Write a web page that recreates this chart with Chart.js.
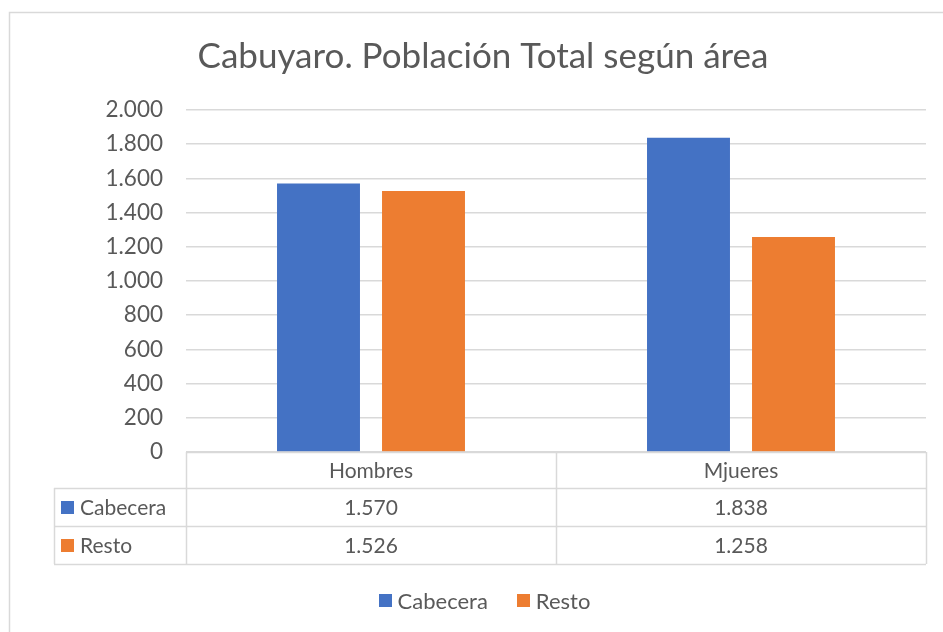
<!DOCTYPE html>
<html>
<head>
<meta charset="utf-8">
<script src="https://cdn.jsdelivr.net/npm/chart.js@4.4.1/dist/chart.umd.min.js"></script>
<style>
  html, body { margin: 0; padding: 0; background: #fff; }
  canvas { display: block; }
</style>
</head>
<body>
<canvas id="c" width="943" height="632"></canvas>
<script>
// Data
const categories = ['Hombres', 'Mjueres'];
const seriesNames = ['Cabecera', 'Resto'];
const cabecera = [1570, 1838];
const resto = [1526, 1258];
const yMin = 0;
const yMax = 2000;
const yStep = 200;
const titleText = 'Cabuyaro. Población Total según área';

const colors = ['#4472C4', '#ED7D31'];
const textColor = '#595959';
const lineColor = '#D9D9D9';
const fontFamily = 'Lato, "Open Sans", sans-serif';

// thousands separator "."
function fmt(v) {
  return String(v).replace(/\B(?=(\d{3})+(?!\d))/g, '.');
}

const seriesValues = [cabecera, resto];

// Outer frame of the chart object
const framePlugin = {
  id: 'frame',
  beforeDraw(chart) {
    const ctx = chart.ctx;
    ctx.save();
    ctx.fillStyle = '#fff';
    ctx.fillRect(0, 0, chart.width, chart.height);
    ctx.strokeStyle = lineColor;
    ctx.lineWidth = 1.5;
    ctx.strokeRect(9.5, 12.5, chart.width + 20, chart.height + 20);
    ctx.restore();
  }
};

// Title and bottom legend
const titlePlugin = {
  id: 'titleLegend',
  afterDraw(chart) {
    const ctx = chart.ctx;
    ctx.save();
    ctx.font = '35px ' + fontFamily;
    ctx.fillStyle = textColor;
    ctx.textAlign = 'center';
    ctx.textBaseline = 'middle';
    ctx.fillText(titleText, 483, 57);

    // legend: coloured square + series name, centred as a group
    ctx.font = '22px ' + fontFamily;
    ctx.textAlign = 'left';
    const box = 13, boxGap = 6, itemGap = 29;
    const widths = seriesNames.map(s => box + boxGap + ctx.measureText(s).width);
    const total = widths.reduce((a, b) => a + b, 0) + itemGap * (seriesNames.length - 1);
    let lx = 484.5 - total / 2;
    const ly = 601;
    seriesNames.forEach((s, i) => {
      ctx.fillStyle = colors[i];
      ctx.fillRect(Math.round(lx), ly - 7, box, box);
      ctx.fillStyle = textColor;
      ctx.fillText(s, lx + box + boxGap, ly + 1);
      lx += widths[i] + itemGap;
    });
    ctx.restore();
  }
};

// Data table under the plot area, aligned to the category scale
const tablePlugin = {
  id: 'dataTable',
  afterDraw(chart) {
    const ctx = chart.ctx;
    const x = chart.scales.x;
    const area = chart.chartArea;
    const n = categories.length;
    const colW = (x.right - x.left) / n;
    const top = area.bottom;
    const headH = 36;
    const rowH = 38;
    const labelLeft = 54;
    const rowsTop = top + headH;
    const bottom = rowsTop + rowH * seriesNames.length;

    ctx.save();
    ctx.strokeStyle = lineColor;
    ctx.lineWidth = 1.5;
    ctx.beginPath();
    ctx.moveTo(x.left, top + 0.5); ctx.lineTo(x.right, top + 0.5);
    for (let r = 0; r <= seriesNames.length; r++) {
      const yy = Math.round(rowsTop + r * rowH) + 0.5;
      ctx.moveTo(labelLeft, yy); ctx.lineTo(x.right, yy);
    }
    for (let i = 0; i <= n; i++) {
      const xx = Math.round(x.left + i * colW) + 0.5;
      ctx.moveTo(xx, top); ctx.lineTo(xx, bottom);
    }
    ctx.moveTo(labelLeft + 0.5, rowsTop); ctx.lineTo(labelLeft + 0.5, bottom);
    ctx.stroke();

    ctx.font = '21px ' + fontFamily;
    ctx.fillStyle = textColor;
    ctx.textBaseline = 'middle';
    ctx.textAlign = 'center';
    categories.forEach((c, i) => {
      ctx.fillText(c, x.getPixelForValue(i), top + headH / 2 + 1);
    });
    seriesNames.forEach((s, r) => {
      const cy = rowsTop + r * rowH + rowH / 2 + 1;
      ctx.fillStyle = colors[r];
      ctx.fillRect(61, cy - 7, 13, 13);
      ctx.fillStyle = textColor;
      ctx.textAlign = 'left';
      ctx.fillText(s, 80, cy);
      ctx.textAlign = 'center';
      seriesValues[r].forEach((v, i) => {
        ctx.fillText(fmt(v), x.getPixelForValue(i), cy);
      });
    });
    ctx.restore();
  }
};

new Chart(document.getElementById('c'), {
  type: 'bar',
  data: {
    labels: categories,
    datasets: seriesNames.map((name, i) => ({
      label: name,
      data: seriesValues[i],
      backgroundColor: colors[i],
      borderWidth: 0,
      categoryPercentage: 0.5676,
      barPercentage: 0.79
    }))
  },
  options: {
    responsive: false,
    animation: false,
    layout: { padding: { top: 110, right: 17, bottom: 180, left: 0 } },
    plugins: {
      tooltip: { enabled: false },
      title: { display: false },
      legend: { display: false }
    },
    scales: {
      x: {
        ticks: { display: false },
        grid: { display: false, drawTicks: false },
        border: { display: false },
        afterFit(scale) { scale.height = 0; }
      },
      y: {
        min: yMin,
        max: yMax,
        ticks: {
          stepSize: yStep,
          padding: 23,
          color: textColor,
          font: { family: fontFamily, size: 22.5 },
          callback: (v) => fmt(v)
        },
        grid: { color: lineColor, lineWidth: 1.5, drawTicks: false },
        border: { display: false },
        afterFit(scale) { scale.width = 186; }
      }
    }
  },
  plugins: [framePlugin, titlePlugin, tablePlugin]
});
</script>
</body>
</html>
